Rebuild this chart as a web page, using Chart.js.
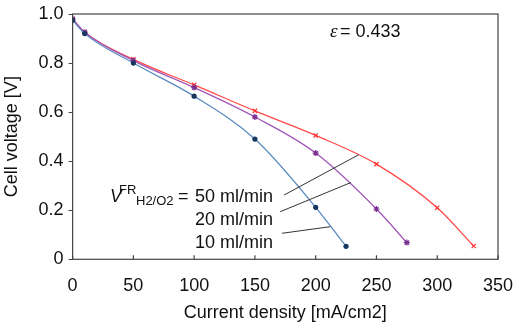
<!DOCTYPE html>
<html>
<head>
<meta charset="utf-8">
<script src="https://cdn.jsdelivr.net/npm/chart.js@4/dist/chart.umd.min.js"></script>
<style>
  html, body { margin: 0; padding: 0; background: #fff; }
  #wrap { width: 519px; height: 331px; }
</style>
</head>
<body>
<div id="wrap"><canvas id="fcChart" width="519" height="331"></canvas></div>
<script>
// Polarisation curves for three flow rates
const current10 = [0, 10, 50, 100, 150, 200, 225];
const voltage10 = [0.975, 0.92, 0.80, 0.665, 0.49, 0.212, 0.053];

const current20 = [0, 10, 50, 100, 150, 200, 250, 275];
const voltage20 = [0.98, 0.926, 0.81, 0.70, 0.58, 0.433, 0.205, 0.068];

const current50 = [0, 10, 50, 100, 150, 200, 250, 300, 330];
const voltage50 = [0.98, 0.926, 0.815, 0.711, 0.605, 0.505, 0.388, 0.21, 0.054];

const xTicks = [0, 50, 100, 150, 200, 250, 300, 350];
const yTicks = [0, 0.2, 0.4, 0.6, 0.8, 1.0];

const toPoints = (xs, ys) => xs.map((x, i) => ({ x: x, y: ys[i] }));

const FONT = "'Liberation Sans', Arial, sans-serif";

// box, inward x ticks, labels and leader lines
const annotations = {
  id: 'annotations',
  afterDraw(chart) {
    const { ctx, chartArea: a, scales: { x, y } } = chart;
    ctx.save();
    ctx.strokeStyle = '#444';
    ctx.lineWidth = 1.2;
    ctx.strokeRect(a.left, a.top, a.right - a.left, a.bottom - a.top);

    ctx.beginPath();
    xTicks.forEach(v => {
      const px = x.getPixelForValue(v);
      ctx.moveTo(px, a.bottom);
      ctx.lineTo(px, a.bottom - 4);
    });
    ctx.stroke();

    // leader lines
    ctx.strokeStyle = '#333';
    ctx.lineWidth = 1;
    const leaders = [
      [174, 0.262, 235.3, 0.426],
      [170.8, 0.194, 229, 0.313],
      [172.2, 0.106, 212, 0.133]
    ];
    leaders.forEach(l => {
      ctx.beginPath();
      ctx.moveTo(x.getPixelForValue(l[0]), y.getPixelForValue(l[1]));
      ctx.lineTo(x.getPixelForValue(l[2]), y.getPixelForValue(l[3]));
      ctx.stroke();
    });

    ctx.fillStyle = '#111';
    ctx.textBaseline = 'alphabetic';

    // epsilon label
    ctx.textAlign = 'left';
    ctx.font = "italic 19px 'Liberation Serif', serif";
    ctx.fillText('ε', 330, 37);
    ctx.font = '18px ' + FONT;
    ctx.fillText('= 0.433', 340, 37);

    // flow rate labels
    ctx.font = 'italic 18px ' + FONT;
    ctx.fillText('V', 110, 202);
    ctx.font = '13px ' + FONT;
    ctx.fillText('FR', 119, 194);
    ctx.fillText('H2/O2', 136, 205);
    ctx.font = '18px ' + FONT;
    ctx.fillText('=', 178, 202);
    const labels = ['50 ml/min', '20 ml/min', '10 ml/min'];
    labels.forEach((t, i) => ctx.fillText(t, 195, 202 + i * 23));
    ctx.restore();
  }
};

const ctx = document.getElementById('fcChart').getContext('2d');

new Chart(ctx, {
  type: 'line',
  data: {
    datasets: [
      {
        label: '10 ml/min',
        data: toPoints(current10, voltage10),
        borderColor: '#5b8bbf',
        borderWidth: 1.3,
        pointStyle: 'circle',
        pointRadius: 2.6,
        pointBackgroundColor: '#17375e',
        pointBorderColor: '#17375e',
        pointBorderWidth: 0,
        cubicInterpolationMode: 'monotone'
      },
      {
        label: '20 ml/min',
        data: toPoints(current20, voltage20),
        borderColor: '#a057b8',
        borderWidth: 1.3,
        pointStyle: 'star',
        pointRadius: 3,
        pointBorderColor: '#7a2f92',
        pointBorderWidth: 1.2,
        cubicInterpolationMode: 'monotone'
      },
      {
        label: '50 ml/min',
        data: toPoints(current50, voltage50),
        borderColor: '#ff4a4a',
        borderWidth: 1.3,
        pointStyle: 'crossRot',
        pointRadius: 3,
        pointBorderColor: '#ff3030',
        pointBorderWidth: 1.2,
        cubicInterpolationMode: 'monotone'
      }
    ]
  },
  options: {
    responsive: false,
    animation: false,
    layout: { padding: { top: 14, right: 21, left: 0, bottom: 0 } },
    plugins: {
      legend: { display: false },
      tooltip: { enabled: false }
    },
    scales: {
      x: {
        type: 'linear',
        min: 0,
        max: 350,
        afterBuildTicks: s => { s.ticks = xTicks.map(v => ({ value: v })); },
        afterFit: s => { s.height = 71.7; s.paddingLeft = 0; s.paddingRight = 0; },
        grid: { display: false, drawTicks: false },
        border: { display: false },
        ticks: { color: '#111', font: { family: FONT, size: 18 }, padding: 16, maxRotation: 0 },
        title: {
          display: true,
          text: 'Current density [mA/cm2]',
          color: '#111',
          font: { family: FONT, size: 18 },
          padding: { top: 0, bottom: 7 }
        }
      },
      y: {
        min: 0,
        max: 1,
        afterBuildTicks: s => { s.ticks = yTicks.map(v => ({ value: v })); },
        afterFit: s => { s.width = 72.6; s.paddingTop = 0; s.paddingBottom = 0; },
        grid: { drawOnChartArea: false, tickLength: 4, color: '#444' },
        border: { display: false },
        ticks: {
          color: '#111',
          font: { family: FONT, size: 18 },
          padding: 5,
          callback: v => (v === 0 ? '0' : v.toFixed(1))
        },
        title: {
          display: true,
          text: 'Cell voltage [V]',
          color: '#111',
          font: { family: FONT, size: 18 },
          padding: { top: 1, bottom: 0 }
        }
      }
    }
  },
  plugins: [annotations]
});
</script>
</body>
</html>
